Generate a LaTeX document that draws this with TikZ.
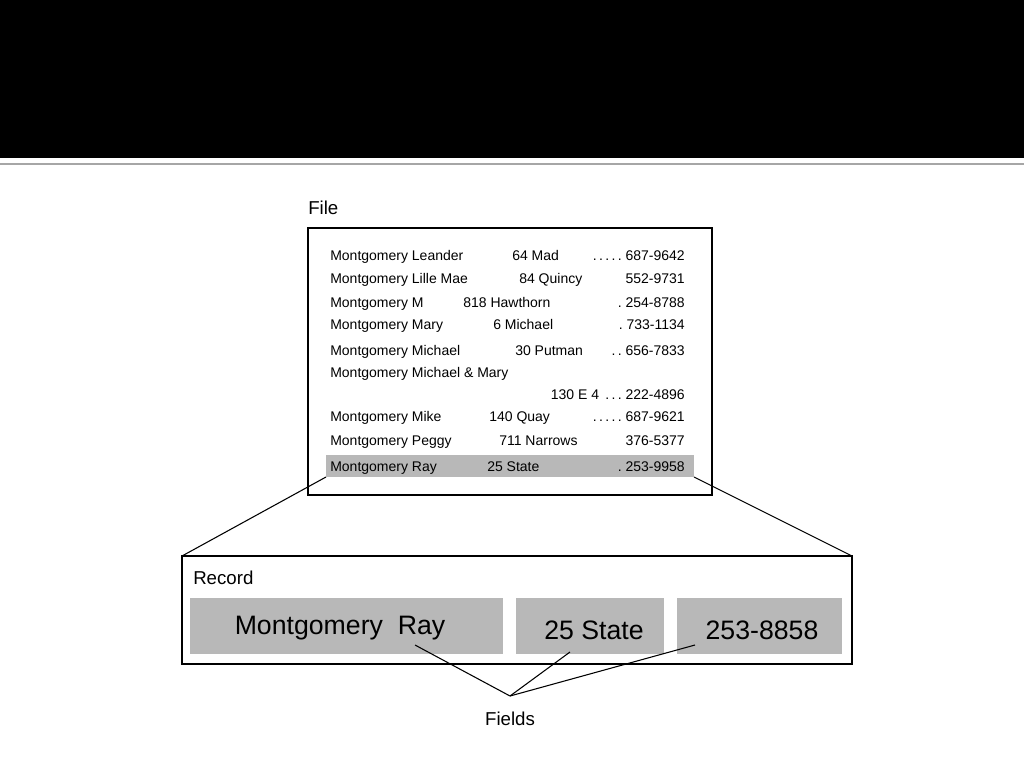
\documentclass[tikz,border=0pt]{standalone}
\usepackage{fontspec}
\setmainfont{Liberation Sans}
\begin{document}
\begin{tikzpicture}[x=0.75pt,y=-0.75pt,
  rowt/.style={anchor=base west,inner sep=0pt,font=\fontsize{10.5}{12}\selectfont},
  ph/.style={anchor=base east,inner sep=0pt,font=\fontsize{10.5}{12}\selectfont},
  big/.style={inner sep=0pt,anchor=base,font=\fontsize{20}{24}\selectfont},
  lab/.style={inner sep=0pt,font=\fontsize{14}{16}\selectfont},
  shade/.style={fill=black!28},
  conn/.style={draw=black,line width=0.8pt}]
\useasboundingbox (0,0) rectangle (1024,768);
\fill[white] (0,0) rectangle (1024,768);
\fill[black] (0,0) rectangle (1024,158);
\draw[black!35,line width=1.5pt] (0,164) -- (1024,164);
\node[lab,anchor=west] (filelab) at (308,208) {File};
\draw[line width=1pt] (308,228) rectangle (712,495);
\fill[shade] (326,455) rectangle (694,477);
\coordinate (hl) at (326,477); \coordinate (hr) at (694,477);
\foreach \y/\a/\d/\p in {260/Montgomery Leander/\,.\,.\,.\,.\,./687-9642,
 283/Montgomery Lille Mae//552-9731, 307/Montgomery M/\ ./254-8788,
 329/Montgomery Mary/\ ./733-1134, 355/Montgomery Michael/\,.\,./656-7833,
 421/Montgomery Mike/\,.\,.\,.\,.\,./687-9621, 445/Montgomery Peggy//376-5377,
 471/Montgomery Ray/\ ./253-9958}{
  \node[rowt] at (330,\y) {\a};
  \node[ph] at (685,\y) {\d\ \p};
}
\node[rowt] at (512,260) {64 Mad};
\node[rowt] at (519,283) {84 Quincy};
\node[rowt] at (463,307) {818 Hawthorn};
\node[rowt] at (493,329) {6 Michael};
\node[rowt] at (515,355) {30 Putman};
\node[rowt] at (330,377) {Montgomery Michael \& Mary};
\node[ph] at (685,399) {130 E 4 \,.\,.\,.\ 222-4896};
\node[rowt] at (489,421) {140 Quay};
\node[rowt] at (499,445) {711 Narrows};
\node[rowt] at (487,471) {25 State};
\draw[line width=1pt] (182,556) rectangle (852,664);
\coordinate (rl) at (182,556); \coordinate (rr) at (852,556);
\draw[conn] (hl) -- (rl); \draw[conn] (hr) -- (rr);
\node[lab,anchor=west] (reclab) at (193,578) {Record};
\fill[shade] (190,598) rectangle (503,654);
\fill[shade] (516,598) rectangle (664,654);
\fill[shade] (677,598) rectangle (842,654);
\node[big] (f1) at (340,634) {Montgomery\ \ Ray};
\node[big] (f2) at (594,639) {25 State};
\node[big] (f3) at (762,639) {253-8858};
\node[lab] (fields) at (510,719) {Fields};
\coordinate (fp) at (510,696);
\coordinate (a1) at (415,645); \coordinate (a2) at (570,652); \coordinate (a3) at (695,645);
\draw[conn] (a1) -- (fp); \draw[conn] (a2) -- (fp); \draw[conn] (a3) -- (fp);
\end{tikzpicture}
\end{document}
